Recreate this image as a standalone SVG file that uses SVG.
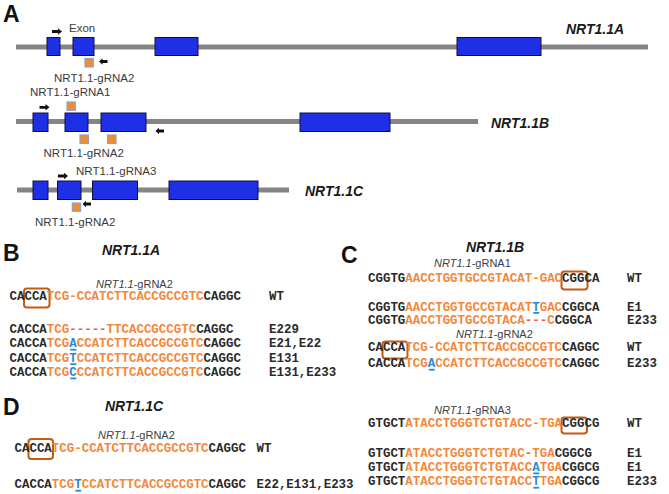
<svg xmlns="http://www.w3.org/2000/svg" xmlns:xlink="http://www.w3.org/1999/xlink" width="669" height="494" viewBox="0 0 669 494">
<style>
.bg{fill:#ffffff}
.line{stroke:#858585;stroke-width:5;fill:none}
.exon{fill:#1f2fe6;stroke:#101040;stroke-width:1}
.sg{fill:#f28a2e;stroke:#8fa3cf;stroke-width:1.2}
.lbl{font-family:"Liberation Sans",Arial,sans-serif;font-size:11.5px;fill:#3a3a3a}
.gene{font-family:"Liberation Sans",Arial,sans-serif;font-size:14px;font-weight:bold;font-style:italic;fill:#1a1a1a}
.panel{font-family:"Liberation Sans",Arial,sans-serif;font-size:23px;font-weight:bold;fill:#111}
.glbl{font-family:"Liberation Sans",Arial,sans-serif;font-size:11px;fill:#404040}
.seq{font-family:"Liberation Mono","Courier New",monospace;font-size:12.45px;font-weight:bold;fill:#2a2a2a}
.k{fill:#2a2a2a}
.o{fill:#f3873a}
.r{fill:#f25c5c}
.b{fill:#2b8ad6}
.ul{fill:#2b8ad6}
.pam{fill:none;stroke:#c55a11;stroke-width:2}
.arrow{fill:#111}
</style>
<defs>
<path id="arR" d="M0,-1.4 H6 V-3.2 L10,0 L6,3.2 V1.4 H0 Z"/>
<path id="arL" d="M0,-1.4 H-5 V-3.2 L-8.5,0 L-5,3.2 V1.4 H0 Z"/>
</defs>
<rect class="bg" x="0" y="0" width="669" height="494"/>

<!-- Panel A -->
<g id="panelA">
<text class="panel" x="3" y="22">A</text>
<g id="geneA">
<line class="line" x1="16" y1="47" x2="648" y2="47"/>
<rect class="exon" x="47" y="37.5" width="13" height="18"/>
<rect class="exon" x="73" y="37.5" width="21" height="18"/>
<rect class="exon" x="155" y="37.5" width="43" height="18"/>
<rect class="exon" x="457" y="37.5" width="84" height="18"/>
<rect class="sg" x="85" y="58.5" width="8.3" height="8.5"/>
<text class="lbl" x="69" y="32" font-size="11">Exon</text>
<text class="lbl" x="54" y="82">NRT1.1-gRNA2</text>
<text class="gene" x="566" y="34">NRT1.1A</text>
</g>
<g id="geneB">
<line class="line" x1="16" y1="121.5" x2="478" y2="121.5"/>
<rect class="exon" x="33" y="113" width="15" height="18.5"/>
<rect class="exon" x="65" y="113" width="23" height="18.5"/>
<rect class="exon" x="101" y="113" width="45" height="18.5"/>
<rect class="exon" x="300" y="113" width="90" height="18.5"/>
<rect class="sg" x="67" y="102" width="8.3" height="8.3"/>
<rect class="sg" x="80" y="135" width="8.5" height="8.5"/>
<rect class="sg" x="107.5" y="135" width="8.5" height="8.5"/>
<text class="lbl" x="30" y="96">NRT1.1-gRNA1</text>
<text class="lbl" x="43.5" y="157">NRT1.1-gRNA2</text>
<text class="gene" x="491" y="127.5">NRT1.1B</text>
</g>
<g id="geneC">
<line class="line" x1="17" y1="190" x2="289" y2="190"/>
<rect class="exon" x="33" y="181" width="15" height="18.5"/>
<rect class="exon" x="57.5" y="181" width="23.5" height="18.5"/>
<rect class="exon" x="92.5" y="181" width="45" height="18.5"/>
<rect class="exon" x="169" y="181" width="89" height="18.5"/>
<rect class="sg" x="72.3" y="203" width="8.3" height="8.3"/>
<text class="lbl" x="76" y="175">NRT1.1-gRNA3</text>
<text class="lbl" x="35" y="226">NRT1.1-gRNA2</text>
<text class="gene" x="305" y="196">NRT1.1C</text>
</g>
<g id="primers" class="arrow">
<use xlink:href="#arR" x="52" y="31.5"/>
<use xlink:href="#arL" x="107.5" y="61.5"/>
<use xlink:href="#arR" x="39.5" y="107.3"/>
<use xlink:href="#arL" x="164" y="131"/>
<use xlink:href="#arR" x="58" y="176"/>
<use xlink:href="#arL" x="91" y="204"/>
</g>
</g>

<!-- Panel B -->
<g id="panelB">
<text class="panel" x="3" y="261">B</text>
<text class="gene" x="102" y="254.5">NRT1.1A</text>
<text class="glbl" x="96" y="287.5"><tspan font-style="italic">NRT1.1</tspan>-gRNA2</text>
<rect class="pam" x="24" y="288.5" width="25.5" height="19" rx="3"/>
<text class="seq" x="9.5" y="300"><tspan class="k">CACCA</tspan><tspan class="o">TCG-CCATCTTCACCGCCGTC</tspan><tspan class="k">CAGGC</tspan></text>
<text class="seq" x="269" y="300">WT</text>
<text class="seq" x="9.5" y="332.5"><tspan class="k">CACCA</tspan><tspan class="o">TCG</tspan><tspan class="r">-----</tspan><tspan class="o">TTCACCGCCGTC</tspan><tspan class="k">CAGGC</tspan></text>
<text class="seq" x="269" y="332.5">E229</text>
<text class="seq" x="9.5" y="347.3"><tspan class="k">CACCA</tspan><tspan class="o">TCG</tspan><tspan class="b">A</tspan><tspan class="o">CCATCTTCACCGCCGTC</tspan><tspan class="k">CAGGC</tspan></text>
<rect class="ul" x="70.3" y="348.8" width="6" height="1.8"/>
<text class="seq" x="269" y="347.3">E21,E22</text>
<text class="seq" x="9.5" y="361.7"><tspan class="k">CACCA</tspan><tspan class="o">TCG</tspan><tspan class="b">T</tspan><tspan class="o">CCATCTTCACCGCCGTC</tspan><tspan class="k">CAGGC</tspan></text>
<rect class="ul" x="70.3" y="363.2" width="6" height="1.8"/>
<text class="seq" x="269" y="361.7">E131</text>
<text class="seq" x="9.5" y="376"><tspan class="k">CACCA</tspan><tspan class="o">TCG</tspan><tspan class="b">C</tspan><tspan class="o">CCATCTTCACCGCCGTC</tspan><tspan class="k">CAGGC</tspan></text>
<rect class="ul" x="70.3" y="377.5" width="6" height="1.8"/>
<text class="seq" x="269" y="376">E131,E233</text>
</g>

<!-- Panel C -->
<g id="panelC">
<text class="panel" x="341" y="262.5">C</text>
<text class="gene" x="466" y="252">NRT1.1B</text>
<text class="glbl" x="434" y="267"><tspan font-style="italic">NRT1.1</tspan>-gRNA1</text>
<rect class="pam" x="561.5" y="271.5" width="26" height="18" rx="3"/>
<text class="seq" x="368" y="282"><tspan class="k">CGGTG</tspan><tspan class="o">AACCTGGTGCCGTACAT-GAC</tspan><tspan class="k">CGGCA</tspan></text>
<text class="seq" x="627" y="282">WT</text>
<text class="seq" x="368" y="310.5"><tspan class="k">CGGTG</tspan><tspan class="o">AACCTGGTGCCGTACAT</tspan><tspan class="b">T</tspan><tspan class="o">GAC</tspan><tspan class="k">CGGCA</tspan></text>
<rect class="ul" x="533.3" y="312" width="6" height="1.8"/>
<text class="seq" x="627" y="310.5">E1</text>
<text class="seq" x="368" y="324"><tspan class="k">CGGTG</tspan><tspan class="o">AACCTGGTGCCGTACA</tspan><tspan class="r">---</tspan><tspan class="o">C</tspan><tspan class="k">CGGCA</tspan></text>
<text class="seq" x="627" y="324">E233</text>

<text class="glbl" x="456" y="337.5" font-size="10.5"><tspan font-style="italic">NRT1.1</tspan>-gRNA2</text>
<rect class="pam" x="382.5" y="341.5" width="25" height="17" rx="3"/>
<text class="seq" x="368" y="350.7"><tspan class="k">CACCA</tspan><tspan class="o">TCG-CCATCTTCACCGCCGTC</tspan><tspan class="k">CAGGC</tspan></text>
<text class="seq" x="627" y="350.7">WT</text>
<text class="seq" x="368" y="367.3"><tspan class="k">CACCA</tspan><tspan class="o">TCG</tspan><tspan class="b">A</tspan><tspan class="o">CCATCTTCACCGCCGTC</tspan><tspan class="k">CAGGC</tspan></text>
<rect class="ul" x="428.8" y="368.8" width="6" height="1.8"/>
<text class="seq" x="627" y="367.3">E233</text>

<text class="glbl" x="434" y="413.5"><tspan font-style="italic">NRT1.1</tspan>-gRNA3</text>
<rect class="pam" x="561.5" y="417.5" width="25.5" height="16" rx="3"/>
<text class="seq" x="368" y="426.7"><tspan class="k">GTGCT</tspan><tspan class="o">ATACCTGGGTCTGTACC-TGA</tspan><tspan class="k">CGGCG</tspan></text>
<text class="seq" x="627" y="426.7">WT</text>
<text class="seq" x="368" y="456.7"><tspan class="k">GTGCT</tspan><tspan class="o">ATACCTGGGTCTGTAC</tspan><tspan class="r">-</tspan><tspan class="o">TGA</tspan><tspan class="k">CGGCG</tspan></text>
<text class="seq" x="627" y="456.7">E1</text>
<text class="seq" x="368" y="471"><tspan class="k">GTGCT</tspan><tspan class="o">ATACCTGGGTCTGTACC</tspan><tspan class="b">A</tspan><tspan class="o">TGA</tspan><tspan class="k">CGGCG</tspan></text>
<rect class="ul" x="533.3" y="472.5" width="6" height="1.8"/>
<text class="seq" x="627" y="471">E1</text>
<text class="seq" x="368" y="485.3"><tspan class="k">GTGCT</tspan><tspan class="o">ATACCTGGGTCTGTACC</tspan><tspan class="b">T</tspan><tspan class="o">TGA</tspan><tspan class="k">CGGCG</tspan></text>
<rect class="ul" x="533.3" y="486.8" width="6" height="1.8"/>
<text class="seq" x="627" y="485.3">E233</text>
</g>

<!-- Panel D -->
<g id="panelD">
<text class="panel" x="3" y="415">D</text>
<text class="gene" x="105" y="411">NRT1.1C</text>
<text class="glbl" x="98" y="438.5"><tspan font-style="italic">NRT1.1</tspan>-gRNA2</text>
<rect class="pam" x="28.5" y="439" width="24.5" height="20" rx="3"/>
<text class="seq" x="14.5" y="451.7"><tspan class="k">CACCA</tspan><tspan class="o">TCG-CCATCTTCACCGCCGTC</tspan><tspan class="k">CAGGC</tspan></text>
<text class="seq" x="256.5" y="451.7">WT</text>
<text class="seq" x="14.5" y="488.3"><tspan class="k">CACCA</tspan><tspan class="o">TCG</tspan><tspan class="b">T</tspan><tspan class="o">CCATCTTCACCGCCGTC</tspan><tspan class="k">CAGGC</tspan></text>
<rect class="ul" x="75.3" y="489.8" width="6" height="1.8"/>
<text class="seq" x="256.5" y="488.3">E22,E131,E233</text>
</g>
</svg>
